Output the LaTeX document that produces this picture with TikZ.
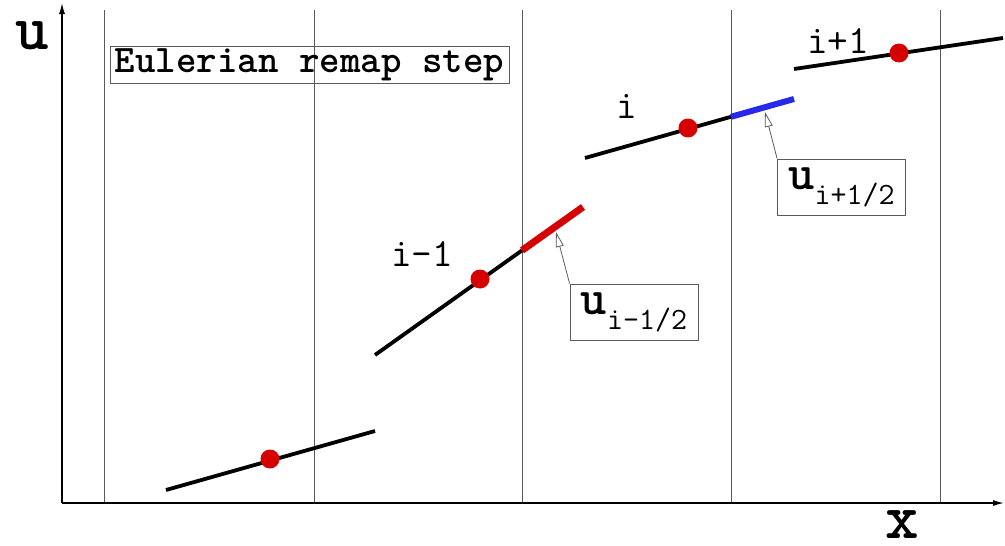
\documentclass[tikz,border=0pt]{standalone}
\usepackage{fontspec}
\usetikzlibrary{arrows.meta}
\definecolor{dotred}{RGB}{214,0,0}
\definecolor{segblue}{RGB}{40,40,235}
\definecolor{gridgray}{RGB}{90,90,90}
\begin{document}
\begin{tikzpicture}[x=1pt,y=-1pt,
  gridline/.style={draw=gridgray, line width=0.8pt},
  axisline/.style={draw=black, line width=1.3pt, -{Latex[length=11pt,width=6pt]}},
  seg/.style={draw=black, line width=3.8pt},
  redseg/.style={draw=dotred, line width=7pt},
  blueseg/.style={draw=segblue, line width=6pt},
  dot/.style={circle, fill=dotred, inner sep=0pt, minimum size=19pt},
  cell/.style={font=\ttfamily\fontsize{40}{40}\selectfont, inner sep=0pt},
  axlabel/.style={font=\ttfamily\bfseries\fontsize{64}{64}\selectfont, inner sep=0pt},
  callbox/.style={draw=gridgray, line width=0.8pt, inner sep=0pt, minimum width=128pt, minimum height=56pt},
  callarrow/.style={draw=gridgray, line width=0.8pt, -{Triangle[open, length=15pt, width=8pt]}}
]
\useasboundingbox (0,0) rectangle (1005,546);
% grid lines
\foreach \gx in {104,314,522,731,940}{
  \draw[gridline] (\gx,10) -- (\gx,503);
}
% axes
\coordinate (O) at (62,503);
\coordinate (ytop) at (62,3);
\coordinate (xend) at (1004,503);
\draw[axisline] (O) -- (ytop);
\draw[axisline] (O) -- (xend);
\node[axlabel] (ulab) at (32,36) {u};
\node[axlabel] (xlab) at (902,525) {x};
% title box
\node[draw=gridgray, line width=0.8pt, minimum width=399pt, minimum height=37pt, inner sep=0pt,
      font=\ttfamily\bfseries\fontsize{39}{39}\selectfont] (title) at (309.5,64.5) {Eulerian remap step};
% segments
\coordinate (a1) at (166,490); \coordinate (a2) at (375,431);
\coordinate (b1) at (375,355); \coordinate (bm) at (522,250.4); \coordinate (b2) at (583,207);
\coordinate (c1) at (585,158); \coordinate (cm) at (731,116.8); \coordinate (c2) at (794,99);
\coordinate (d1) at (794,69); \coordinate (d2) at (1003,38);
\draw[seg] (a1) -- (a2);
\draw[seg] (b1) -- (bm);
\draw[redseg] (bm) -- (b2);
\draw[seg] (c1) -- (cm);
\draw[blueseg] (cm) -- (c2);
\draw[seg] (d1) -- (d2);
% dots
\node[dot] (p1) at (270,459) {};
\node[dot] (p2) at (480,279) {};
\node[dot] (p3) at (688,128) {};
\node[dot] (p4) at (899,53) {};
% cell labels
\node[cell] (l2) at (422,254) {i-1};
\node[cell] (l3) at (627,106) {i};
\node[cell] (l4) at (838,41) {i+1};
% callouts
\node[callbox, font=\ttfamily] (cb1) at (634,312) {\bfseries\fontsize{50}{50}\selectfont u\raisebox{-15pt}{\mdseries\fontsize{31}{31}\selectfont i-1/2}};
\node[callbox, font=\ttfamily] (cb2) at (841.5,187) {\bfseries\fontsize{50}{50}\selectfont u\raisebox{-15pt}{\mdseries\fontsize{31}{31}\selectfont i+1/2}};
\coordinate (t1) at (556,232);
\coordinate (t2) at (765,112);
\draw[callarrow] (cb1.north west) -- (t1);
\draw[callarrow] (cb2.north west) -- (t2);
\end{tikzpicture}
\end{document}
